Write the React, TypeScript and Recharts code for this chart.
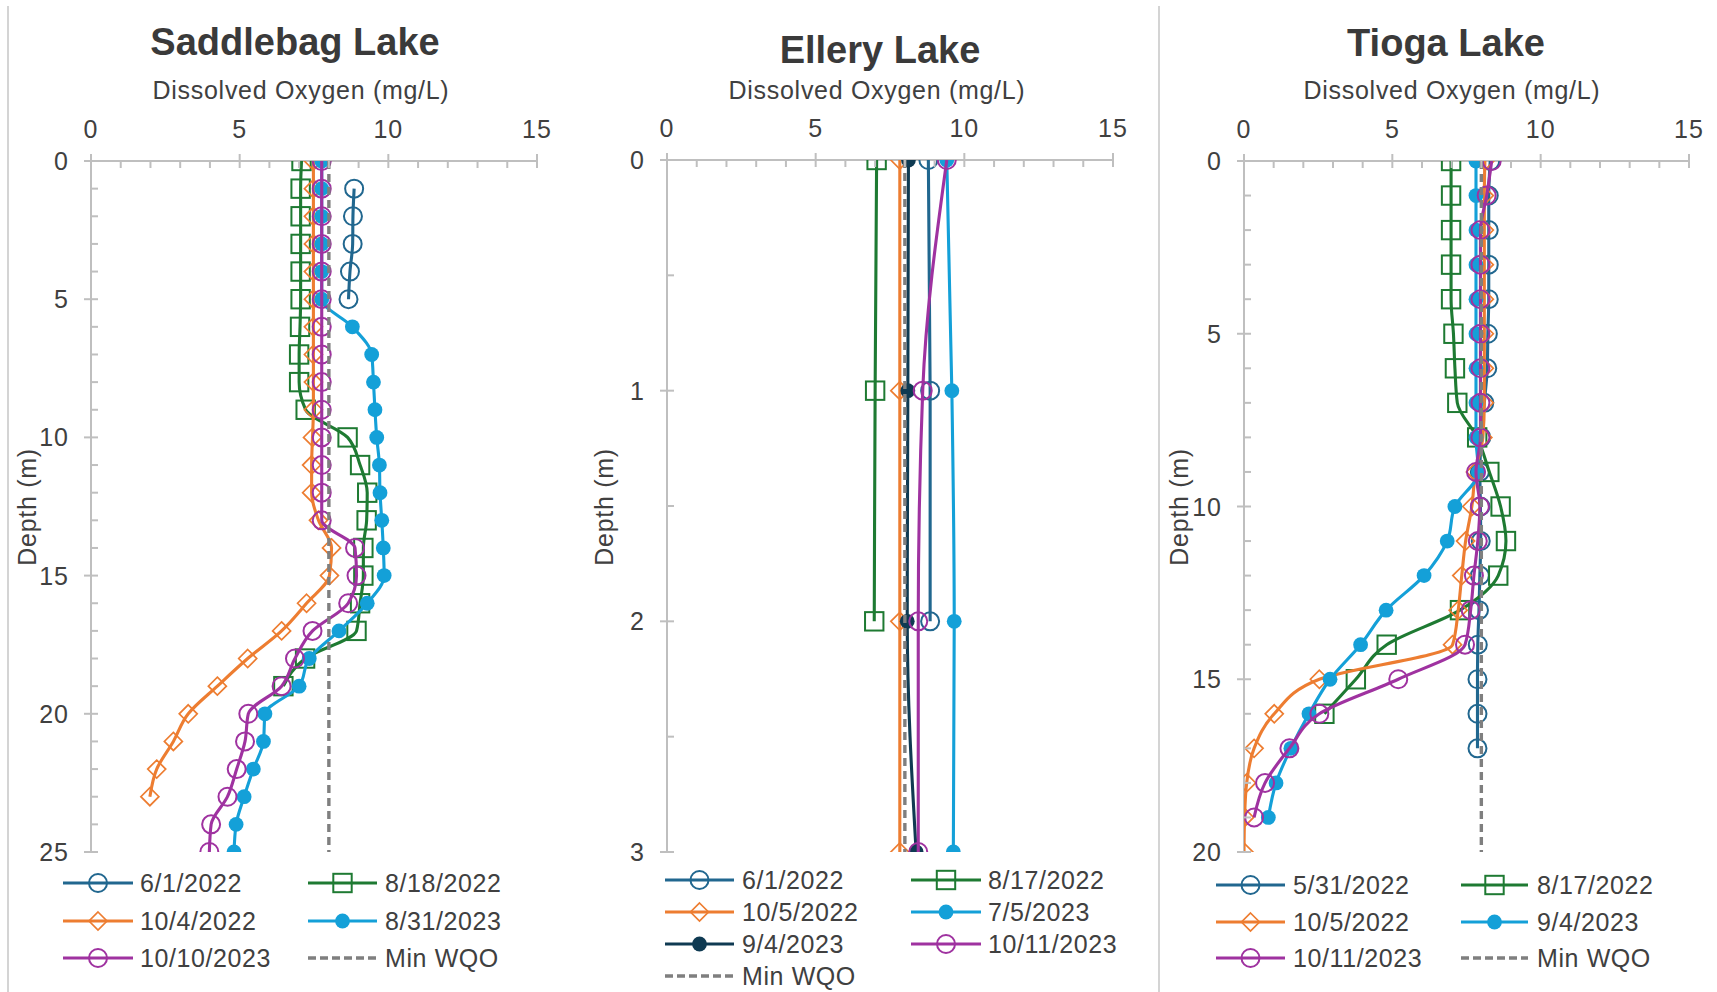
import React from 'react';
import { ScatterChart, Scatter, XAxis, YAxis } from 'recharts';

// colours
const AXIS = '#bfbfbf';
const TEXT = '#404040';
const TITLE = '#3a3a3a';
const FONT = '"Liberation Sans", Arial, sans-serif';
const TEAL = '#21678f';
const GREEN = '#1e7a32';
const ORANGE = '#ed7d31';
const SKY = '#14a0d8';
const PURPLE = '#9f32a0';
const NAVY = '#0f3a52';
const GREY = '#7f7f7f';

// axis ticks
const DO_TICKS = [0, 1, 2, 3, 4, 5, 6, 7, 8, 9, 10, 11, 12, 13, 14, 15];
const SB_DEPTH_TICKS = [0, 1, 2, 3, 4, 5, 6, 7, 8, 9, 10, 11, 12, 13, 14, 15, 16, 17, 18, 19, 20, 21, 22, 23, 24, 25];
const SB_DEPTH_LABELS = [0, 5, 10, 15, 20, 25];
const EL_DEPTH_TICKS = [0, 0.5, 1, 1.5, 2, 2.5, 3];
const EL_DEPTH_LABELS = [0, 1, 2, 3];
const TI_DEPTH_TICKS = [0, 1, 2, 3, 4, 5, 6, 7, 8, 9, 10, 11, 12, 13, 14, 15, 16, 17, 18, 19, 20];
const TI_DEPTH_LABELS = [0, 5, 10, 15, 20];

// Saddlebag Lake (depth m -> DO mg/L)
const SB_DEPTHS = [0, 1, 2, 3, 4, 5, 6, 7, 8, 9, 10, 11, 12, 13, 14, 15, 16, 17, 18, 19, 20, 21, 22, 23, 24, 25];
const SB_JUN22_DEPTHS = [1, 2, 3, 4, 5];
const SB_JUN22 = [8.85, 8.81, 8.8, 8.71, 8.66];
const SB_AUG22 = [7.08, 7.05, 7.05, 7.05, 7.05, 7.05, 7.03, 7.0, 7.0, 7.22, 8.63, 9.05, 9.29, 9.27, 9.16, 9.16, 9.05, 8.93, 7.2, 6.47];
const SB_OCT22 = [7.48, 7.48, 7.48, 7.48, 7.48, 7.48, 7.48, 7.48, 7.48, 7.48, 7.45, 7.42, 7.42, 7.65, 8.09, 8.02, 7.25, 6.41, 5.27, 4.25, 3.27, 2.77, 2.21, 1.98];
const SB_AUG23 = [7.76, 7.76, 7.76, 7.76, 7.76, 7.76, 8.79, 9.44, 9.5, 9.55, 9.61, 9.7, 9.72, 9.78, 9.83, 9.86, 9.29, 8.34, 7.34, 7.0, 5.85, 5.8, 5.46, 5.15, 4.88, 4.81];
const SB_OCT23 = [7.76, 7.76, 7.76, 7.76, 7.76, 7.76, 7.76, 7.76, 7.76, 7.76, 7.76, 7.76, 7.76, 7.76, 8.88, 8.93, 8.65, 7.45, 6.86, 6.41, 5.29, 5.18, 4.9, 4.59, 4.04, 3.98];
const SB_WQO_DEPTHS = [0, 25];
const SB_WQO = [8, 8];

// Ellery Lake
const EL_DEPTHS = [0, 1, 2, 3];
const EL_JUN22 = [8.79, 8.85, 8.85];
const EL_AUG22 = [7.05, 7.0, 6.97];
const EL_OCT22 = [7.83, 7.83, 7.83, 7.83];
const EL_JUL23 = [9.41, 9.58, 9.66, 9.63];
const EL_SEP23 = [8.12, 8.1, 8.08, 8.38];
const EL_OCT23 = [9.41, 8.6, 8.45, 8.45];
const EL_WQO_DEPTHS = [0, 3];
const EL_WQO = [8, 8];

// Tioga Lake
const TI_DEPTHS = [0, 1, 2, 3, 4, 5, 6, 7, 8, 9, 10, 11, 12, 13, 14, 15, 16, 17, 18, 19, 20];
const TI_MAY22 = [8.3, 8.25, 8.25, 8.25, 8.25, 8.22, 8.2, 8.1, 8.0, 7.95, 7.97, 7.98, 7.95, 7.92, 7.88, 7.87, 7.87, 7.87];
const TI_AUG22 = [6.98, 6.98, 6.98, 6.98, 6.98, 7.06, 7.11, 7.19, 7.86, 8.27, 8.65, 8.83, 8.57, 7.28, 4.81, 3.77, 2.71];
const TI_OCT22 = [8.12, 8.1, 8.1, 8.1, 8.1, 8.1, 8.1, 8.1, 8.05, 7.8, 7.68, 7.47, 7.34, 7.22, 7.03, 2.54, 1.02, 0.34, 0.09, 0.02, 0.0];
const TI_SEP23 = [7.82, 7.82, 7.82, 7.82, 7.82, 7.82, 7.82, 7.82, 7.82, 7.9, 7.11, 6.85, 6.07, 4.79, 3.93, 2.9, 2.19, 1.58, 1.08, 0.82];
const TI_OCT23 = [8.35, 8.18, 7.97, 7.97, 7.97, 7.97, 7.97, 7.97, 7.97, 7.82, 7.95, 7.88, 7.75, 7.64, 7.45, 5.2, 2.54, 1.53, 0.71, 0.34];
const TI_WQO_DEPTHS = [0, 20];
const TI_WQO = [8, 8];

type Marker = 'ring' | 'square' | 'diamond' | 'dot' | 'none';
type Series = { name: string; color: string; marker: Marker; depths: number[]; values: number[]; dashed?: boolean };

const LINE_W = 3.1;
const DASH_W = 3.4;
const DASH = '8 5';

const toPoints = (depths: number[], values: number[]) =>
  values.map((v, i) => ({ x: v, y: depths[i] }));

function drawMarker(kind: Marker, color: string, cx: number, cy: number) {
  switch (kind) {
    case 'ring':
      return <circle cx={cx} cy={cy} r={9} fill="none" stroke={color} strokeWidth={2} />;
    case 'square':
      return <rect x={cx - 9.2} y={cy - 9.2} width={18.4} height={18.4} fill="none" stroke={color} strokeWidth={2} />;
    case 'diamond':
      return (
        <path
          d={`M${cx},${cy - 9}L${cx + 9},${cy}L${cx},${cy + 9}L${cx - 9},${cy}Z`}
          fill="none"
          stroke={color}
          strokeWidth={1.7}
        />
      );
    case 'dot':
      return <circle cx={cx} cy={cy} r={7.4} fill={color} stroke="none" />;
    default:
      return <g />;
  }
}

const sbSeries: Series[] = [
  { name: '6/1/2022', color: TEAL, marker: 'ring', depths: SB_JUN22_DEPTHS, values: SB_JUN22 },
  { name: '8/18/2022', color: GREEN, marker: 'square', depths: SB_DEPTHS, values: SB_AUG22 },
  { name: '10/4/2022', color: ORANGE, marker: 'diamond', depths: SB_DEPTHS, values: SB_OCT22 },
  { name: '8/31/2023', color: SKY, marker: 'dot', depths: SB_DEPTHS, values: SB_AUG23 },
  { name: '10/10/2023', color: PURPLE, marker: 'ring', depths: SB_DEPTHS, values: SB_OCT23 },
  { name: 'Min WQO', color: GREY, marker: 'none', depths: SB_WQO_DEPTHS, values: SB_WQO, dashed: true },
];

const elSeries: Series[] = [
  { name: '6/1/2022', color: TEAL, marker: 'ring', depths: EL_DEPTHS, values: EL_JUN22 },
  { name: '8/17/2022', color: GREEN, marker: 'square', depths: EL_DEPTHS, values: EL_AUG22 },
  { name: '10/5/2022', color: ORANGE, marker: 'diamond', depths: EL_DEPTHS, values: EL_OCT22 },
  { name: '7/5/2023', color: SKY, marker: 'dot', depths: EL_DEPTHS, values: EL_JUL23 },
  { name: '9/4/2023', color: NAVY, marker: 'dot', depths: EL_DEPTHS, values: EL_SEP23 },
  { name: '10/11/2023', color: PURPLE, marker: 'ring', depths: EL_DEPTHS, values: EL_OCT23 },
  { name: 'Min WQO', color: GREY, marker: 'none', depths: EL_WQO_DEPTHS, values: EL_WQO, dashed: true },
];

const tiSeries: Series[] = [
  { name: '5/31/2022', color: TEAL, marker: 'ring', depths: TI_DEPTHS, values: TI_MAY22 },
  { name: '8/17/2022', color: GREEN, marker: 'square', depths: TI_DEPTHS, values: TI_AUG22 },
  { name: '10/5/2022', color: ORANGE, marker: 'diamond', depths: TI_DEPTHS, values: TI_OCT22 },
  { name: '9/4/2023', color: SKY, marker: 'dot', depths: TI_DEPTHS, values: TI_SEP23 },
  { name: '10/11/2023', color: PURPLE, marker: 'ring', depths: TI_DEPTHS, values: TI_OCT23 },
  { name: 'Min WQO', color: GREY, marker: 'none', depths: TI_WQO_DEPTHS, values: TI_WQO, dashed: true },
];

type PanelProps = {
  left: number;
  width: number;
  plotLeft: number;
  plotRight: number;
  plotTop: number;
  plotBottom: number;
  depthMax: number;
  depthTicks: number[];
  depthLabels: number[];
  series: Series[];
};

function Panel({ left, width, plotLeft, plotRight, plotTop, plotBottom, depthMax, depthTicks, depthLabels, series }: PanelProps) {
  // 1px axis boxes: the axis line sits on the plot edge
  const margin = { top: plotTop - 1, left: plotLeft - 1, right: width - plotRight, bottom: 992 - plotBottom };

  const xTick = (p: any) => {
    const x = p.x;
    const v = Number(p.payload.value);
    const major = v % 5 === 0;
    return (
      <g>
        <line x1={x} x2={x} y1={major ? plotTop - 7 : plotTop} y2={plotTop + 7} stroke={AXIS} strokeWidth={2} />
        {major ? (
          <text x={x} y={plotTop - 23} textAnchor="middle" fontSize={25} fontFamily={FONT} fill={TEXT} letterSpacing={1}>
            {v}
          </text>
        ) : null}
      </g>
    );
  };

  const yTick = (p: any) => {
    const y = p.y;
    const v = Number(p.payload.value);
    const major = depthLabels.includes(v);
    return (
      <g>
        <line x1={major ? plotLeft - 7 : plotLeft} x2={plotLeft + 7} y1={y} y2={y} stroke={AXIS} strokeWidth={2} />
        {major ? (
          <text x={plotLeft - 22} y={y + 9} textAnchor="end" fontSize={25} fontFamily={FONT} fill={TEXT} letterSpacing={1}>
            {v}
          </text>
        ) : null}
      </g>
    );
  };

  return (
    <div style={{ position: 'absolute', left, top: 0 }}>
      <ScatterChart width={width} height={992} margin={margin}>
        <XAxis
          type="number"
          dataKey="x"
          orientation="top"
          domain={[0, 15]}
          ticks={DO_TICKS}
          interval={0}
          height={1}
          tickSize={0}
          tickMargin={0}
          tickLine={false}
          axisLine={{ stroke: AXIS, strokeWidth: 2 }}
          tick={xTick}
          allowDataOverflow
        />
        <YAxis
          type="number"
          dataKey="y"
          reversed
          domain={[0, depthMax]}
          ticks={depthTicks}
          interval={0}
          width={1}
          tickSize={0}
          tickMargin={0}
          tickLine={false}
          axisLine={{ stroke: AXIS, strokeWidth: 2 }}
          tick={yTick}
          allowDataOverflow
        />
        {series.map((s) => (
          <Scatter
            key={s.name}
            name={s.name}
            data={toPoints(s.depths, s.values)}
            fill={s.color}
            line={{ stroke: s.color, strokeWidth: s.dashed ? DASH_W : LINE_W, strokeDasharray: s.dashed ? DASH : undefined }}
            lineJointType="monotoneY"
            shape={(p: any) => (p.cx == null ? <g /> : drawMarker(s.marker, s.color, p.cx, p.cy))}
            isAnimationActive={false}
          />
        ))}
      </ScatterChart>
    </div>
  );
}

type LegendLayout = { rows: number[]; cols: { x1: number; x2: number; tx: number }[] };

function LegendBlock({ series, layout }: { series: Series[]; layout: LegendLayout }) {
  return (
    <g>
      {series.map((s, i) => {
        const row = layout.rows[Math.floor(i / 2)];
        const col = layout.cols[i % 2];
        const mid = (col.x1 + col.x2) / 2;
        return (
          <g key={s.name}>
            <line
              x1={col.x1}
              x2={col.x2}
              y1={row}
              y2={row}
              stroke={s.color}
              strokeWidth={s.dashed ? DASH_W : LINE_W}
              strokeDasharray={s.dashed ? '8 4' : undefined}
            />
            {drawMarker(s.marker, s.color, mid, row)}
            <text x={col.tx} y={row + 9} fontSize={25} fontFamily={FONT} fill={TEXT} letterSpacing={0.6}>
              {s.name}
            </text>
          </g>
        );
      })}
    </g>
  );
}

function Texts() {
  const title = { fontSize: 38, fontWeight: 700, fontFamily: FONT, fill: TITLE } as const;
  const axisLab = { fontSize: 25, fontFamily: FONT, fill: TEXT, letterSpacing: 0.7 } as const;
  return (
    <svg width={1717} height={992} style={{ position: 'absolute', left: 0, top: 0, pointerEvents: 'none' }}>
      <text x={295} y={55} textAnchor="middle" {...title}>Saddlebag Lake</text>
      <text x={880} y={62.5} textAnchor="middle" {...title}>Ellery Lake</text>
      <text x={1446} y={55.5} textAnchor="middle" {...title}>Tioga Lake</text>

      <text x={301} y={99} textAnchor="middle" {...axisLab}>Dissolved Oxygen (mg/L)</text>
      <text x={877} y={99} textAnchor="middle" {...axisLab}>Dissolved Oxygen (mg/L)</text>
      <text x={1452} y={99} textAnchor="middle" {...axisLab}>Dissolved Oxygen (mg/L)</text>

      <text transform="translate(36,507) rotate(-90)" textAnchor="middle" {...axisLab}>Depth (m)</text>
      <text transform="translate(613,507) rotate(-90)" textAnchor="middle" {...axisLab}>Depth (m)</text>
      <text transform="translate(1188,507) rotate(-90)" textAnchor="middle" {...axisLab}>Depth (m)</text>

      <LegendBlock
        series={sbSeries}
        layout={{ rows: [883, 921, 958], cols: [{ x1: 63, x2: 133, tx: 140 }, { x1: 308, x2: 377, tx: 385 }] }}
      />
      <LegendBlock
        series={elSeries}
        layout={{ rows: [880, 912, 944, 976], cols: [{ x1: 665, x2: 734, tx: 742 }, { x1: 911, x2: 981, tx: 988 }] }}
      />
      <LegendBlock
        series={tiSeries}
        layout={{ rows: [885, 922, 958], cols: [{ x1: 1216, x2: 1285, tx: 1293 }, { x1: 1461, x2: 1528, tx: 1537 }] }}
      />
    </svg>
  );
}

export default function App() {
  return (
    <div style={{ position: 'absolute', left: 0, top: 0, width: 1717, height: 992, background: '#fff', overflow: 'hidden' }}>
      <div style={{ position: 'absolute', left: 7, top: 6, width: 1.5, height: 986, background: '#d4d4d4' }} />
      <div style={{ position: 'absolute', left: 1158, top: 6, width: 1.5, height: 986, background: '#d4d4d4' }} />
      <Panel
        left={0}
        width={580}
        plotLeft={91}
        plotRight={537}
        plotTop={161}
        plotBottom={852}
        depthMax={25}
        depthTicks={SB_DEPTH_TICKS}
        depthLabels={SB_DEPTH_LABELS}
        series={sbSeries}
      />
      <Panel
        left={580}
        width={580}
        plotLeft={87}
        plotRight={533}
        plotTop={160}
        plotBottom={852}
        depthMax={3}
        depthTicks={EL_DEPTH_TICKS}
        depthLabels={EL_DEPTH_LABELS}
        series={elSeries}
      />
      <Panel
        left={1160}
        width={557}
        plotLeft={84}
        plotRight={529}
        plotTop={161}
        plotBottom={852}
        depthMax={20}
        depthTicks={TI_DEPTH_TICKS}
        depthLabels={TI_DEPTH_LABELS}
        series={tiSeries}
      />
      <Texts />
    </div>
  );
}
